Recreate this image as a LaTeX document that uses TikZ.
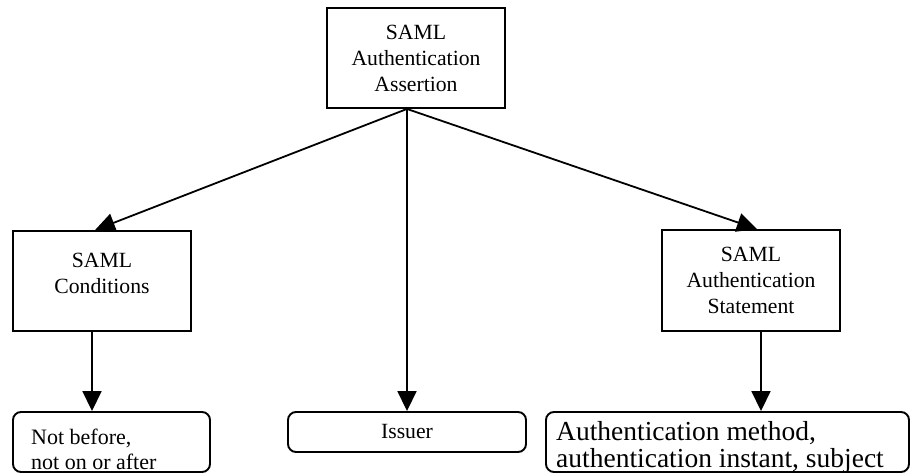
\documentclass[tikz,border=0pt]{standalone}
\usepackage{fontspec}
\setmainfont{Liberation Serif}
\usetikzlibrary{arrows.meta,calc}
\begin{document}
\begin{tikzpicture}[x=1pt,y=-1pt,
  box/.style={draw,line width=1.9pt,fill=white,inner sep=0pt},
  leaf/.style={draw,line width=1.9pt,rounded corners=8pt,fill=white,inner sep=0pt},
  lbl/.style={inner sep=0pt,align=center,font=\fontsize{21.7}{26}\selectfont},
  link/.style={line width=1.8pt,-{Triangle[length=20pt,width=19pt]}}]
\useasboundingbox[fill=white] (0,0) rectangle (911,473);

% upper boxes
\node[box,lbl,minimum width=178pt,minimum height=100pt] (root) at (416,58)
  {SAML\\Authentication\\Assertion};
\node[box,minimum width=178pt,minimum height=100pt] (cond) at (102,281) {};
\node[lbl] (condtxt) at (102,273) {SAML\\Conditions};
\node[box,lbl,minimum width=178pt,minimum height=101pt] (stmt) at (751,280.5)
  {SAML\\Authentication\\Statement};

% leaf boxes
\node[leaf,minimum width=197pt,minimum height=60pt] (nb) at (111.5,442) {};
\node[inner sep=0pt,align=left,anchor=west,font=\fontsize{22}{25}\selectfont]
  (nbtxt) at (31,449.5) {Not before,\\not on or after};
\node[leaf,lbl,minimum width=238pt,minimum height=40pt] (iss) at (407,432) {Issuer};
\node[leaf,minimum width=363pt,minimum height=60pt] (meth) at (727.5,442) {};
\node[inner sep=0pt,align=left,anchor=west,font=\fontsize{27.5}{27}\selectfont]
  (methtxt) at (556,447) {Authentication method,\\authentication instant, subject};

% connectors
\coordinate (hub) at (root.south -| iss.north);
\draw[link] (hub) -- ([xshift=-7pt]cond.north);
\draw[link] (hub) -- (iss.north);
\draw[link] (hub) -- ([xshift=6pt]stmt.north);
\draw[link] ([xshift=-10pt]cond.south) -- ([xshift=-10pt]cond.south |- nb.north);
\draw[link] ([xshift=10pt]stmt.south) -- ([xshift=10pt]stmt.south |- meth.north);
\end{tikzpicture}
\end{document}
